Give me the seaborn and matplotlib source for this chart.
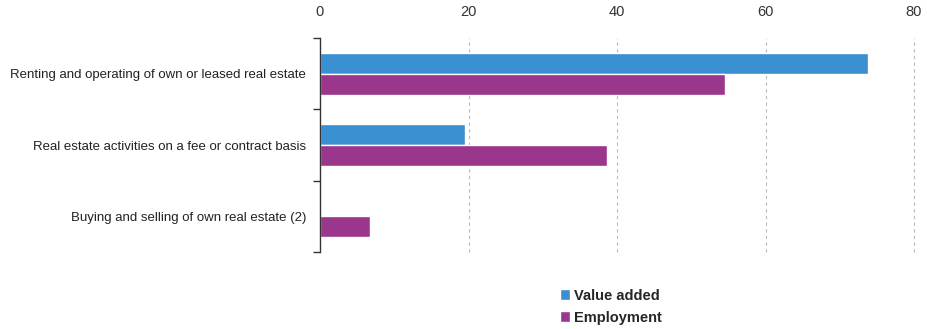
import numpy as np
import pandas as pd
import seaborn as sns
import matplotlib
matplotlib.use("Agg")
import matplotlib.pyplot as plt
from matplotlib.ticker import FixedLocator

categories = [
    "Renting and operating of own or leased real estate",
    "Real estate activities on a fee or contract basis",
    "Buying and selling of own real estate (2)",
]
value_added = [73.8, 19.5, np.nan]
employment = [54.6, 38.7, 6.8]
series_names = ["Value added", "Employment"]
x_ticks = [0, 20, 40, 60, 80]

df = pd.DataFrame({
    "category": categories * 2,
    "series": [series_names[0]] * 3 + [series_names[1]] * 3,
    "value": value_added + employment,
})

sns.set_theme(style="white")
plt.rcParams["font.family"] = ["Liberation Sans", "DejaVu Sans"]

fig = plt.figure(figsize=(9.27, 3.29), dpi=100)
ax = fig.add_axes([320 / 927, 1 - 252 / 329, 594 / 927, 214 / 329])

palette = {"Value added": "#3A8FD0", "Employment": "#9A368C"}
sns.barplot(data=df, y="category", x="value", hue="series", order=categories,
            hue_order=series_names, palette=palette, orient="h", width=0.59,
            saturation=1, ax=ax, legend=True)

ax.set_xlim(0, 80)
ax.set_ylim(2.5, -0.5)
ax.set_xlabel("")
ax.set_ylabel("")
ax.xaxis.tick_top()
ax.set_xticks(x_ticks)
ax.set_xticklabels([str(t) for t in x_ticks], fontsize=10.5, color="#333333")
ax.tick_params(axis="x", length=0, pad=14)
ax.tick_params(axis="y", which="major", length=0, labelsize=9.5, pad=10, labelcolor="#222222")
ax.yaxis.set_minor_locator(FixedLocator([-0.5, 0.5, 1.5, 2.5]))
ax.tick_params(axis="y", which="minor", length=5, width=1, color="#333333", direction="out", left=True)

for t in x_ticks[1:]:
    ax.axvline(t, color="#BBBBBB", linestyle=(0, (3, 3)), linewidth=0.8, zorder=0,
               clip_on=False)

for s in ["top", "right", "bottom"]:
    ax.spines[s].set_visible(False)
ax.spines["left"].set_color("#333333")
ax.spines["left"].set_linewidth(1)

sns.move_legend(ax, loc="upper center", bbox_to_anchor=(0.49, -0.11), ncol=1,
                frameon=False, title=None, handlelength=0.7, handleheight=0.7,
                handletextpad=0.3, labelspacing=0.55,
                prop={"weight": "bold", "size": 10.5})

fig.savefig("out.png", dpi=100, facecolor="white")
